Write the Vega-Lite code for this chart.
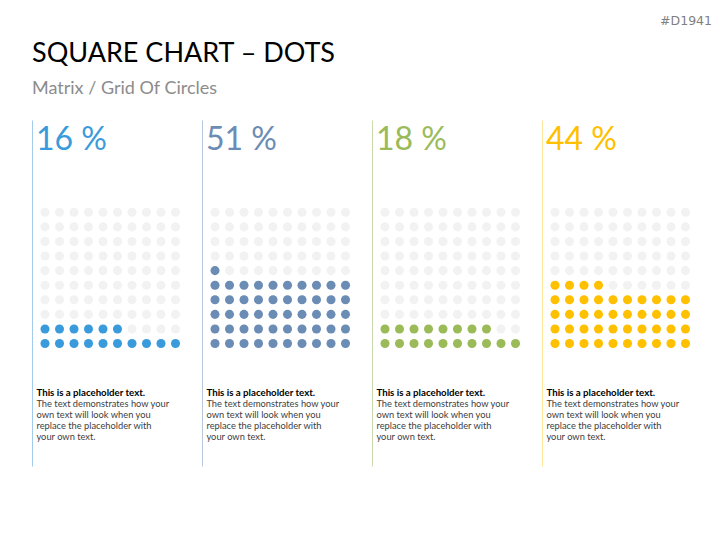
{
  "$schema": "https://vega.github.io/schema/vega-lite/v6.json",
  "padding": {"left": 32, "top": 14, "right": 15, "bottom": 79},
  "config": {"view": {"stroke": null}, "font": "Lato"},
  "title": {"text": "#D1941", "anchor": "end", "font": "DejaVu Sans", "fontSize": 12.5, "fontWeight": "normal", "color": "#7F7F7F", "offset": 13},
  "datasets": {
    "labels": [
      {"p": 1, "pct": "16 %"},
      {"p": 2, "pct": "51 %"},
      {"p": 3, "pct": "18 %"},
      {"p": 4, "pct": "44 %"}
    ],
    "dots": [
      {"p":1,"r":1,"c":1,"f":1},{"p":1,"r":1,"c":2,"f":1},{"p":1,"r":1,"c":3,"f":1},{"p":1,"r":1,"c":4,"f":1},{"p":1,"r":1,"c":5,"f":1},{"p":1,"r":1,"c":6,"f":1},{"p":1,"r":1,"c":7,"f":1},{"p":1,"r":1,"c":8,"f":1},{"p":1,"r":1,"c":9,"f":1},{"p":1,"r":1,"c":10,"f":1},
      {"p":1,"r":2,"c":1,"f":1},{"p":1,"r":2,"c":2,"f":1},{"p":1,"r":2,"c":3,"f":1},{"p":1,"r":2,"c":4,"f":1},{"p":1,"r":2,"c":5,"f":1},{"p":1,"r":2,"c":6,"f":1},{"p":1,"r":2,"c":7,"f":0},{"p":1,"r":2,"c":8,"f":0},{"p":1,"r":2,"c":9,"f":0},{"p":1,"r":2,"c":10,"f":0},
      {"p":1,"r":3,"c":1,"f":0},{"p":1,"r":3,"c":2,"f":0},{"p":1,"r":3,"c":3,"f":0},{"p":1,"r":3,"c":4,"f":0},{"p":1,"r":3,"c":5,"f":0},{"p":1,"r":3,"c":6,"f":0},{"p":1,"r":3,"c":7,"f":0},{"p":1,"r":3,"c":8,"f":0},{"p":1,"r":3,"c":9,"f":0},{"p":1,"r":3,"c":10,"f":0},
      {"p":1,"r":4,"c":1,"f":0},{"p":1,"r":4,"c":2,"f":0},{"p":1,"r":4,"c":3,"f":0},{"p":1,"r":4,"c":4,"f":0},{"p":1,"r":4,"c":5,"f":0},{"p":1,"r":4,"c":6,"f":0},{"p":1,"r":4,"c":7,"f":0},{"p":1,"r":4,"c":8,"f":0},{"p":1,"r":4,"c":9,"f":0},{"p":1,"r":4,"c":10,"f":0},
      {"p":1,"r":5,"c":1,"f":0},{"p":1,"r":5,"c":2,"f":0},{"p":1,"r":5,"c":3,"f":0},{"p":1,"r":5,"c":4,"f":0},{"p":1,"r":5,"c":5,"f":0},{"p":1,"r":5,"c":6,"f":0},{"p":1,"r":5,"c":7,"f":0},{"p":1,"r":5,"c":8,"f":0},{"p":1,"r":5,"c":9,"f":0},{"p":1,"r":5,"c":10,"f":0},
      {"p":1,"r":6,"c":1,"f":0},{"p":1,"r":6,"c":2,"f":0},{"p":1,"r":6,"c":3,"f":0},{"p":1,"r":6,"c":4,"f":0},{"p":1,"r":6,"c":5,"f":0},{"p":1,"r":6,"c":6,"f":0},{"p":1,"r":6,"c":7,"f":0},{"p":1,"r":6,"c":8,"f":0},{"p":1,"r":6,"c":9,"f":0},{"p":1,"r":6,"c":10,"f":0},
      {"p":1,"r":7,"c":1,"f":0},{"p":1,"r":7,"c":2,"f":0},{"p":1,"r":7,"c":3,"f":0},{"p":1,"r":7,"c":4,"f":0},{"p":1,"r":7,"c":5,"f":0},{"p":1,"r":7,"c":6,"f":0},{"p":1,"r":7,"c":7,"f":0},{"p":1,"r":7,"c":8,"f":0},{"p":1,"r":7,"c":9,"f":0},{"p":1,"r":7,"c":10,"f":0},
      {"p":1,"r":8,"c":1,"f":0},{"p":1,"r":8,"c":2,"f":0},{"p":1,"r":8,"c":3,"f":0},{"p":1,"r":8,"c":4,"f":0},{"p":1,"r":8,"c":5,"f":0},{"p":1,"r":8,"c":6,"f":0},{"p":1,"r":8,"c":7,"f":0},{"p":1,"r":8,"c":8,"f":0},{"p":1,"r":8,"c":9,"f":0},{"p":1,"r":8,"c":10,"f":0},
      {"p":1,"r":9,"c":1,"f":0},{"p":1,"r":9,"c":2,"f":0},{"p":1,"r":9,"c":3,"f":0},{"p":1,"r":9,"c":4,"f":0},{"p":1,"r":9,"c":5,"f":0},{"p":1,"r":9,"c":6,"f":0},{"p":1,"r":9,"c":7,"f":0},{"p":1,"r":9,"c":8,"f":0},{"p":1,"r":9,"c":9,"f":0},{"p":1,"r":9,"c":10,"f":0},
      {"p":1,"r":10,"c":1,"f":0},{"p":1,"r":10,"c":2,"f":0},{"p":1,"r":10,"c":3,"f":0},{"p":1,"r":10,"c":4,"f":0},{"p":1,"r":10,"c":5,"f":0},{"p":1,"r":10,"c":6,"f":0},{"p":1,"r":10,"c":7,"f":0},{"p":1,"r":10,"c":8,"f":0},{"p":1,"r":10,"c":9,"f":0},{"p":1,"r":10,"c":10,"f":0},

      {"p":2,"r":1,"c":1,"f":1},{"p":2,"r":1,"c":2,"f":1},{"p":2,"r":1,"c":3,"f":1},{"p":2,"r":1,"c":4,"f":1},{"p":2,"r":1,"c":5,"f":1},{"p":2,"r":1,"c":6,"f":1},{"p":2,"r":1,"c":7,"f":1},{"p":2,"r":1,"c":8,"f":1},{"p":2,"r":1,"c":9,"f":1},{"p":2,"r":1,"c":10,"f":1},
      {"p":2,"r":2,"c":1,"f":1},{"p":2,"r":2,"c":2,"f":1},{"p":2,"r":2,"c":3,"f":1},{"p":2,"r":2,"c":4,"f":1},{"p":2,"r":2,"c":5,"f":1},{"p":2,"r":2,"c":6,"f":1},{"p":2,"r":2,"c":7,"f":1},{"p":2,"r":2,"c":8,"f":1},{"p":2,"r":2,"c":9,"f":1},{"p":2,"r":2,"c":10,"f":1},
      {"p":2,"r":3,"c":1,"f":1},{"p":2,"r":3,"c":2,"f":1},{"p":2,"r":3,"c":3,"f":1},{"p":2,"r":3,"c":4,"f":1},{"p":2,"r":3,"c":5,"f":1},{"p":2,"r":3,"c":6,"f":1},{"p":2,"r":3,"c":7,"f":1},{"p":2,"r":3,"c":8,"f":1},{"p":2,"r":3,"c":9,"f":1},{"p":2,"r":3,"c":10,"f":1},
      {"p":2,"r":4,"c":1,"f":1},{"p":2,"r":4,"c":2,"f":1},{"p":2,"r":4,"c":3,"f":1},{"p":2,"r":4,"c":4,"f":1},{"p":2,"r":4,"c":5,"f":1},{"p":2,"r":4,"c":6,"f":1},{"p":2,"r":4,"c":7,"f":1},{"p":2,"r":4,"c":8,"f":1},{"p":2,"r":4,"c":9,"f":1},{"p":2,"r":4,"c":10,"f":1},
      {"p":2,"r":5,"c":1,"f":1},{"p":2,"r":5,"c":2,"f":1},{"p":2,"r":5,"c":3,"f":1},{"p":2,"r":5,"c":4,"f":1},{"p":2,"r":5,"c":5,"f":1},{"p":2,"r":5,"c":6,"f":1},{"p":2,"r":5,"c":7,"f":1},{"p":2,"r":5,"c":8,"f":1},{"p":2,"r":5,"c":9,"f":1},{"p":2,"r":5,"c":10,"f":1},
      {"p":2,"r":6,"c":1,"f":1},{"p":2,"r":6,"c":2,"f":0},{"p":2,"r":6,"c":3,"f":0},{"p":2,"r":6,"c":4,"f":0},{"p":2,"r":6,"c":5,"f":0},{"p":2,"r":6,"c":6,"f":0},{"p":2,"r":6,"c":7,"f":0},{"p":2,"r":6,"c":8,"f":0},{"p":2,"r":6,"c":9,"f":0},{"p":2,"r":6,"c":10,"f":0},
      {"p":2,"r":7,"c":1,"f":0},{"p":2,"r":7,"c":2,"f":0},{"p":2,"r":7,"c":3,"f":0},{"p":2,"r":7,"c":4,"f":0},{"p":2,"r":7,"c":5,"f":0},{"p":2,"r":7,"c":6,"f":0},{"p":2,"r":7,"c":7,"f":0},{"p":2,"r":7,"c":8,"f":0},{"p":2,"r":7,"c":9,"f":0},{"p":2,"r":7,"c":10,"f":0},
      {"p":2,"r":8,"c":1,"f":0},{"p":2,"r":8,"c":2,"f":0},{"p":2,"r":8,"c":3,"f":0},{"p":2,"r":8,"c":4,"f":0},{"p":2,"r":8,"c":5,"f":0},{"p":2,"r":8,"c":6,"f":0},{"p":2,"r":8,"c":7,"f":0},{"p":2,"r":8,"c":8,"f":0},{"p":2,"r":8,"c":9,"f":0},{"p":2,"r":8,"c":10,"f":0},
      {"p":2,"r":9,"c":1,"f":0},{"p":2,"r":9,"c":2,"f":0},{"p":2,"r":9,"c":3,"f":0},{"p":2,"r":9,"c":4,"f":0},{"p":2,"r":9,"c":5,"f":0},{"p":2,"r":9,"c":6,"f":0},{"p":2,"r":9,"c":7,"f":0},{"p":2,"r":9,"c":8,"f":0},{"p":2,"r":9,"c":9,"f":0},{"p":2,"r":9,"c":10,"f":0},
      {"p":2,"r":10,"c":1,"f":0},{"p":2,"r":10,"c":2,"f":0},{"p":2,"r":10,"c":3,"f":0},{"p":2,"r":10,"c":4,"f":0},{"p":2,"r":10,"c":5,"f":0},{"p":2,"r":10,"c":6,"f":0},{"p":2,"r":10,"c":7,"f":0},{"p":2,"r":10,"c":8,"f":0},{"p":2,"r":10,"c":9,"f":0},{"p":2,"r":10,"c":10,"f":0},

      {"p":3,"r":1,"c":1,"f":1},{"p":3,"r":1,"c":2,"f":1},{"p":3,"r":1,"c":3,"f":1},{"p":3,"r":1,"c":4,"f":1},{"p":3,"r":1,"c":5,"f":1},{"p":3,"r":1,"c":6,"f":1},{"p":3,"r":1,"c":7,"f":1},{"p":3,"r":1,"c":8,"f":1},{"p":3,"r":1,"c":9,"f":1},{"p":3,"r":1,"c":10,"f":1},
      {"p":3,"r":2,"c":1,"f":1},{"p":3,"r":2,"c":2,"f":1},{"p":3,"r":2,"c":3,"f":1},{"p":3,"r":2,"c":4,"f":1},{"p":3,"r":2,"c":5,"f":1},{"p":3,"r":2,"c":6,"f":1},{"p":3,"r":2,"c":7,"f":1},{"p":3,"r":2,"c":8,"f":1},{"p":3,"r":2,"c":9,"f":0},{"p":3,"r":2,"c":10,"f":0},
      {"p":3,"r":3,"c":1,"f":0},{"p":3,"r":3,"c":2,"f":0},{"p":3,"r":3,"c":3,"f":0},{"p":3,"r":3,"c":4,"f":0},{"p":3,"r":3,"c":5,"f":0},{"p":3,"r":3,"c":6,"f":0},{"p":3,"r":3,"c":7,"f":0},{"p":3,"r":3,"c":8,"f":0},{"p":3,"r":3,"c":9,"f":0},{"p":3,"r":3,"c":10,"f":0},
      {"p":3,"r":4,"c":1,"f":0},{"p":3,"r":4,"c":2,"f":0},{"p":3,"r":4,"c":3,"f":0},{"p":3,"r":4,"c":4,"f":0},{"p":3,"r":4,"c":5,"f":0},{"p":3,"r":4,"c":6,"f":0},{"p":3,"r":4,"c":7,"f":0},{"p":3,"r":4,"c":8,"f":0},{"p":3,"r":4,"c":9,"f":0},{"p":3,"r":4,"c":10,"f":0},
      {"p":3,"r":5,"c":1,"f":0},{"p":3,"r":5,"c":2,"f":0},{"p":3,"r":5,"c":3,"f":0},{"p":3,"r":5,"c":4,"f":0},{"p":3,"r":5,"c":5,"f":0},{"p":3,"r":5,"c":6,"f":0},{"p":3,"r":5,"c":7,"f":0},{"p":3,"r":5,"c":8,"f":0},{"p":3,"r":5,"c":9,"f":0},{"p":3,"r":5,"c":10,"f":0},
      {"p":3,"r":6,"c":1,"f":0},{"p":3,"r":6,"c":2,"f":0},{"p":3,"r":6,"c":3,"f":0},{"p":3,"r":6,"c":4,"f":0},{"p":3,"r":6,"c":5,"f":0},{"p":3,"r":6,"c":6,"f":0},{"p":3,"r":6,"c":7,"f":0},{"p":3,"r":6,"c":8,"f":0},{"p":3,"r":6,"c":9,"f":0},{"p":3,"r":6,"c":10,"f":0},
      {"p":3,"r":7,"c":1,"f":0},{"p":3,"r":7,"c":2,"f":0},{"p":3,"r":7,"c":3,"f":0},{"p":3,"r":7,"c":4,"f":0},{"p":3,"r":7,"c":5,"f":0},{"p":3,"r":7,"c":6,"f":0},{"p":3,"r":7,"c":7,"f":0},{"p":3,"r":7,"c":8,"f":0},{"p":3,"r":7,"c":9,"f":0},{"p":3,"r":7,"c":10,"f":0},
      {"p":3,"r":8,"c":1,"f":0},{"p":3,"r":8,"c":2,"f":0},{"p":3,"r":8,"c":3,"f":0},{"p":3,"r":8,"c":4,"f":0},{"p":3,"r":8,"c":5,"f":0},{"p":3,"r":8,"c":6,"f":0},{"p":3,"r":8,"c":7,"f":0},{"p":3,"r":8,"c":8,"f":0},{"p":3,"r":8,"c":9,"f":0},{"p":3,"r":8,"c":10,"f":0},
      {"p":3,"r":9,"c":1,"f":0},{"p":3,"r":9,"c":2,"f":0},{"p":3,"r":9,"c":3,"f":0},{"p":3,"r":9,"c":4,"f":0},{"p":3,"r":9,"c":5,"f":0},{"p":3,"r":9,"c":6,"f":0},{"p":3,"r":9,"c":7,"f":0},{"p":3,"r":9,"c":8,"f":0},{"p":3,"r":9,"c":9,"f":0},{"p":3,"r":9,"c":10,"f":0},
      {"p":3,"r":10,"c":1,"f":0},{"p":3,"r":10,"c":2,"f":0},{"p":3,"r":10,"c":3,"f":0},{"p":3,"r":10,"c":4,"f":0},{"p":3,"r":10,"c":5,"f":0},{"p":3,"r":10,"c":6,"f":0},{"p":3,"r":10,"c":7,"f":0},{"p":3,"r":10,"c":8,"f":0},{"p":3,"r":10,"c":9,"f":0},{"p":3,"r":10,"c":10,"f":0},

      {"p":4,"r":1,"c":1,"f":1},{"p":4,"r":1,"c":2,"f":1},{"p":4,"r":1,"c":3,"f":1},{"p":4,"r":1,"c":4,"f":1},{"p":4,"r":1,"c":5,"f":1},{"p":4,"r":1,"c":6,"f":1},{"p":4,"r":1,"c":7,"f":1},{"p":4,"r":1,"c":8,"f":1},{"p":4,"r":1,"c":9,"f":1},{"p":4,"r":1,"c":10,"f":1},
      {"p":4,"r":2,"c":1,"f":1},{"p":4,"r":2,"c":2,"f":1},{"p":4,"r":2,"c":3,"f":1},{"p":4,"r":2,"c":4,"f":1},{"p":4,"r":2,"c":5,"f":1},{"p":4,"r":2,"c":6,"f":1},{"p":4,"r":2,"c":7,"f":1},{"p":4,"r":2,"c":8,"f":1},{"p":4,"r":2,"c":9,"f":1},{"p":4,"r":2,"c":10,"f":1},
      {"p":4,"r":3,"c":1,"f":1},{"p":4,"r":3,"c":2,"f":1},{"p":4,"r":3,"c":3,"f":1},{"p":4,"r":3,"c":4,"f":1},{"p":4,"r":3,"c":5,"f":1},{"p":4,"r":3,"c":6,"f":1},{"p":4,"r":3,"c":7,"f":1},{"p":4,"r":3,"c":8,"f":1},{"p":4,"r":3,"c":9,"f":1},{"p":4,"r":3,"c":10,"f":1},
      {"p":4,"r":4,"c":1,"f":1},{"p":4,"r":4,"c":2,"f":1},{"p":4,"r":4,"c":3,"f":1},{"p":4,"r":4,"c":4,"f":1},{"p":4,"r":4,"c":5,"f":1},{"p":4,"r":4,"c":6,"f":1},{"p":4,"r":4,"c":7,"f":1},{"p":4,"r":4,"c":8,"f":1},{"p":4,"r":4,"c":9,"f":1},{"p":4,"r":4,"c":10,"f":1},
      {"p":4,"r":5,"c":1,"f":1},{"p":4,"r":5,"c":2,"f":1},{"p":4,"r":5,"c":3,"f":1},{"p":4,"r":5,"c":4,"f":1},{"p":4,"r":5,"c":5,"f":0},{"p":4,"r":5,"c":6,"f":0},{"p":4,"r":5,"c":7,"f":0},{"p":4,"r":5,"c":8,"f":0},{"p":4,"r":5,"c":9,"f":0},{"p":4,"r":5,"c":10,"f":0},
      {"p":4,"r":6,"c":1,"f":0},{"p":4,"r":6,"c":2,"f":0},{"p":4,"r":6,"c":3,"f":0},{"p":4,"r":6,"c":4,"f":0},{"p":4,"r":6,"c":5,"f":0},{"p":4,"r":6,"c":6,"f":0},{"p":4,"r":6,"c":7,"f":0},{"p":4,"r":6,"c":8,"f":0},{"p":4,"r":6,"c":9,"f":0},{"p":4,"r":6,"c":10,"f":0},
      {"p":4,"r":7,"c":1,"f":0},{"p":4,"r":7,"c":2,"f":0},{"p":4,"r":7,"c":3,"f":0},{"p":4,"r":7,"c":4,"f":0},{"p":4,"r":7,"c":5,"f":0},{"p":4,"r":7,"c":6,"f":0},{"p":4,"r":7,"c":7,"f":0},{"p":4,"r":7,"c":8,"f":0},{"p":4,"r":7,"c":9,"f":0},{"p":4,"r":7,"c":10,"f":0},
      {"p":4,"r":8,"c":1,"f":0},{"p":4,"r":8,"c":2,"f":0},{"p":4,"r":8,"c":3,"f":0},{"p":4,"r":8,"c":4,"f":0},{"p":4,"r":8,"c":5,"f":0},{"p":4,"r":8,"c":6,"f":0},{"p":4,"r":8,"c":7,"f":0},{"p":4,"r":8,"c":8,"f":0},{"p":4,"r":8,"c":9,"f":0},{"p":4,"r":8,"c":10,"f":0},
      {"p":4,"r":9,"c":1,"f":0},{"p":4,"r":9,"c":2,"f":0},{"p":4,"r":9,"c":3,"f":0},{"p":4,"r":9,"c":4,"f":0},{"p":4,"r":9,"c":5,"f":0},{"p":4,"r":9,"c":6,"f":0},{"p":4,"r":9,"c":7,"f":0},{"p":4,"r":9,"c":8,"f":0},{"p":4,"r":9,"c":9,"f":0},{"p":4,"r":9,"c":10,"f":0},
      {"p":4,"r":10,"c":1,"f":0},{"p":4,"r":10,"c":2,"f":0},{"p":4,"r":10,"c":3,"f":0},{"p":4,"r":10,"c":4,"f":0},{"p":4,"r":10,"c":5,"f":0},{"p":4,"r":10,"c":6,"f":0},{"p":4,"r":10,"c":7,"f":0},{"p":4,"r":10,"c":8,"f":0},{"p":4,"r":10,"c":9,"f":0},{"p":4,"r":10,"c":10,"f":0}
    ]
  },
  "bounds": "flush",
  "spacing": 0,
  "vconcat": [
    {
      "title": {"text": "SQUARE CHART – DOTS", "subtitle": "Matrix / Grid Of Circles", "anchor": "start", "font": "Lato", "fontSize": 27, "fontWeight": "normal", "color": "#000000", "subtitleFont": "Lato", "subtitleFontSize": 18, "subtitleColor": "#8C8C8C", "subtitlePadding": 12, "offset": 21},
      "bounds": "flush",
      "spacing": 0,
      "hconcat": [
        {
          "width": 170, "height": 346,
          "layer": [
            {
              "data": {"name": "dots"},
              "transform": [{"filter": "datum.p == 1"}],
              "mark": {"type": "point", "filled": true, "shape": "circle", "size": 82, "opacity": 1, "strokeWidth": 0},
              "encoding": {
                "x": {"field": "c", "type": "quantitative", "scale": {"domain": [0.103, 11.828], "nice": false, "zero": false}, "axis": null},
                "y": {"field": "r", "type": "quantitative", "scale": {"domain": [-7.4, 16.33], "nice": false, "zero": false}, "title": null, "axis": {"domain": true, "domainColor": "#A3CBEB", "domainWidth": 1, "ticks": false, "labels": false, "grid": false}},
                "color": {"condition": {"test": "datum.f == 1", "value": "#3A9BDC"}, "value": "#F2F2F2"}
              }
            },
            {
              "data": {"name": "labels"},
              "transform": [{"filter": "datum.p == 1"}],
              "mark": {"type": "text", "align": "left", "baseline": "alphabetic", "font": "Lato", "fontSize": 32, "color": "#3A9BDC"},
              "encoding": {"x": {"datum": 0.38}, "y": {"datum": 14.27}, "text": {"field": "pct"}}
            },
            {
              "data": {"name": "labels"},
              "transform": [{"filter": "datum.p == 1"}],
              "mark": {"type": "text", "align": "left", "baseline": "alphabetic", "font": "Lato", "fontSize": 9.7, "fontWeight": "bold", "color": "#000000", "text": "This is a placeholder text."},
              "encoding": {"x": {"datum": 0.41}, "y": {"datum": -2.6}}
            },
            {
              "data": {"name": "labels"},
              "transform": [{"filter": "datum.p == 1"}],
              "mark": {"type": "text", "align": "left", "baseline": "alphabetic", "font": "Lato", "fontSize": 9.3, "lineHeight": 11, "color": "#404040", "text": ["The text demonstrates how your", "own text will look when you", "replace the placeholder with", "your own text."]},
              "encoding": {"x": {"datum": 0.41}, "y": {"datum": -3.36}}
            }
          ]
        },
        {
          "width": 170, "height": 346,
          "layer": [
            {
              "data": {"name": "dots"},
              "transform": [{"filter": "datum.p == 2"}],
              "mark": {"type": "point", "filled": true, "shape": "circle", "size": 82, "opacity": 1, "strokeWidth": 0},
              "encoding": {
                "x": {"field": "c", "type": "quantitative", "scale": {"domain": [0.103, 11.828], "nice": false, "zero": false}, "axis": null},
                "y": {"field": "r", "type": "quantitative", "scale": {"domain": [-7.4, 16.33], "nice": false, "zero": false}, "title": null, "axis": {"domain": true, "domainColor": "#B8C7DB", "domainWidth": 1, "ticks": false, "labels": false, "grid": false}},
                "color": {"condition": {"test": "datum.f == 1", "value": "#6B8CB4"}, "value": "#F2F2F2"}
              }
            },
            {
              "data": {"name": "labels"},
              "transform": [{"filter": "datum.p == 2"}],
              "mark": {"type": "text", "align": "left", "baseline": "alphabetic", "font": "Lato", "fontSize": 32, "color": "#6B8CB4"},
              "encoding": {"x": {"datum": 0.38}, "y": {"datum": 14.27}, "text": {"field": "pct"}}
            },
            {
              "data": {"name": "labels"},
              "transform": [{"filter": "datum.p == 2"}],
              "mark": {"type": "text", "align": "left", "baseline": "alphabetic", "font": "Lato", "fontSize": 9.7, "fontWeight": "bold", "color": "#000000", "text": "This is a placeholder text."},
              "encoding": {"x": {"datum": 0.41}, "y": {"datum": -2.6}}
            },
            {
              "data": {"name": "labels"},
              "transform": [{"filter": "datum.p == 2"}],
              "mark": {"type": "text", "align": "left", "baseline": "alphabetic", "font": "Lato", "fontSize": 9.3, "lineHeight": 11, "color": "#404040", "text": ["The text demonstrates how your", "own text will look when you", "replace the placeholder with", "your own text."]},
              "encoding": {"x": {"datum": 0.41}, "y": {"datum": -3.36}}
            }
          ]
        },
        {
          "width": 170, "height": 346,
          "layer": [
            {
              "data": {"name": "dots"},
              "transform": [{"filter": "datum.p == 3"}],
              "mark": {"type": "point", "filled": true, "shape": "circle", "size": 82, "opacity": 1, "strokeWidth": 0},
              "encoding": {
                "x": {"field": "c", "type": "quantitative", "scale": {"domain": [0.103, 11.828], "nice": false, "zero": false}, "axis": null},
                "y": {"field": "r", "type": "quantitative", "scale": {"domain": [-7.4, 16.33], "nice": false, "zero": false}, "title": null, "axis": {"domain": true, "domainColor": "#CBD9AE", "domainWidth": 1, "ticks": false, "labels": false, "grid": false}},
                "color": {"condition": {"test": "datum.f == 1", "value": "#9BBB59"}, "value": "#F2F2F2"}
              }
            },
            {
              "data": {"name": "labels"},
              "transform": [{"filter": "datum.p == 3"}],
              "mark": {"type": "text", "align": "left", "baseline": "alphabetic", "font": "Lato", "fontSize": 32, "color": "#9BBB59"},
              "encoding": {"x": {"datum": 0.38}, "y": {"datum": 14.27}, "text": {"field": "pct"}}
            },
            {
              "data": {"name": "labels"},
              "transform": [{"filter": "datum.p == 3"}],
              "mark": {"type": "text", "align": "left", "baseline": "alphabetic", "font": "Lato", "fontSize": 9.7, "fontWeight": "bold", "color": "#000000", "text": "This is a placeholder text."},
              "encoding": {"x": {"datum": 0.41}, "y": {"datum": -2.6}}
            },
            {
              "data": {"name": "labels"},
              "transform": [{"filter": "datum.p == 3"}],
              "mark": {"type": "text", "align": "left", "baseline": "alphabetic", "font": "Lato", "fontSize": 9.3, "lineHeight": 11, "color": "#404040", "text": ["The text demonstrates how your", "own text will look when you", "replace the placeholder with", "your own text."]},
              "encoding": {"x": {"datum": 0.41}, "y": {"datum": -3.36}}
            }
          ]
        },
        {
          "width": 170, "height": 346,
          "layer": [
            {
              "data": {"name": "dots"},
              "transform": [{"filter": "datum.p == 4"}],
              "mark": {"type": "point", "filled": true, "shape": "circle", "size": 82, "opacity": 1, "strokeWidth": 0},
              "encoding": {
                "x": {"field": "c", "type": "quantitative", "scale": {"domain": [0.103, 11.828], "nice": false, "zero": false}, "axis": null},
                "y": {"field": "r", "type": "quantitative", "scale": {"domain": [-7.4, 16.33], "nice": false, "zero": false}, "title": null, "axis": {"domain": true, "domainColor": "#FFE59A", "domainWidth": 1, "ticks": false, "labels": false, "grid": false}},
                "color": {"condition": {"test": "datum.f == 1", "value": "#FFC000"}, "value": "#F2F2F2"}
              }
            },
            {
              "data": {"name": "labels"},
              "transform": [{"filter": "datum.p == 4"}],
              "mark": {"type": "text", "align": "left", "baseline": "alphabetic", "font": "Lato", "fontSize": 32, "color": "#FFC000"},
              "encoding": {"x": {"datum": 0.38}, "y": {"datum": 14.27}, "text": {"field": "pct"}}
            },
            {
              "data": {"name": "labels"},
              "transform": [{"filter": "datum.p == 4"}],
              "mark": {"type": "text", "align": "left", "baseline": "alphabetic", "font": "Lato", "fontSize": 9.7, "fontWeight": "bold", "color": "#000000", "text": "This is a placeholder text."},
              "encoding": {"x": {"datum": 0.41}, "y": {"datum": -2.6}}
            },
            {
              "data": {"name": "labels"},
              "transform": [{"filter": "datum.p == 4"}],
              "mark": {"type": "text", "align": "left", "baseline": "alphabetic", "font": "Lato", "fontSize": 9.3, "lineHeight": 11, "color": "#404040", "text": ["The text demonstrates how your", "own text will look when you", "replace the placeholder with", "your own text."]},
              "encoding": {"x": {"datum": 0.41}, "y": {"datum": -3.36}}
            }
          ]
        }
      ]
    }
  ]
}
